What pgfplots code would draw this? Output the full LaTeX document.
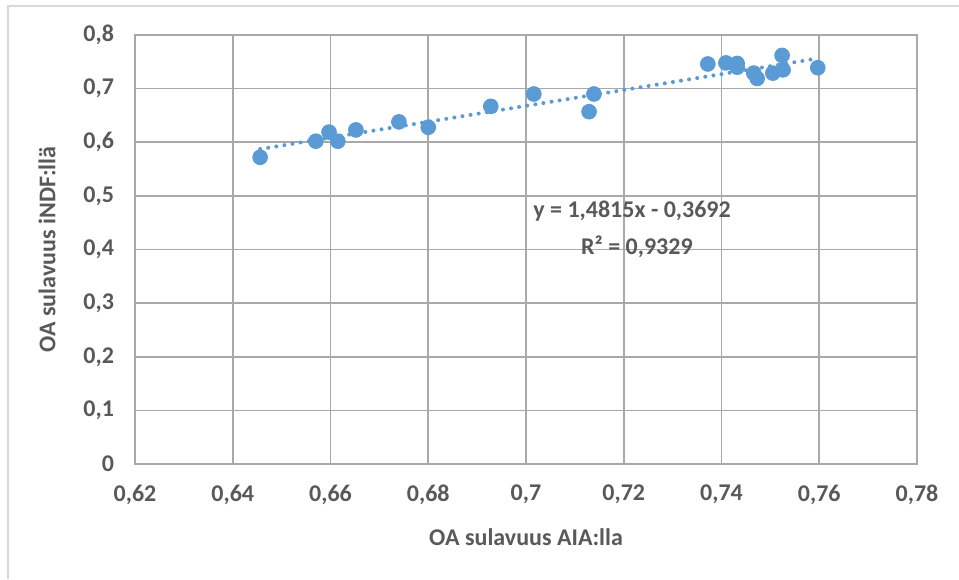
\documentclass[border=0pt]{standalone}
\usepackage{fontspec}
\setmainfont{Carlito}
\usepackage{pgfplots}
\pgfplotsset{compat=1.18}
\definecolor{txt}{HTML}{595959}
\definecolor{grd}{HTML}{A9A9A9}
\definecolor{pt}{HTML}{5B9BD5}
\definecolor{frm}{HTML}{D9D9D9}
\begin{document}
\begin{tikzpicture}
\useasboundingbox (0,0) rectangle (479.5pt,289.5pt);
\draw[frm, line width=0.6pt] (4pt,0pt) -- (4pt,286.5pt) -- (479.5pt,286.5pt);
\begin{axis}[
  at={(67.5pt,57.5pt)}, anchor=south west,
  scale only axis, width=391pt, height=214.5pt,
  xmin=0.62, xmax=0.78, ymin=0, ymax=0.8,
  xtick={0.62,0.64,0.66,0.68,0.70,0.72,0.74,0.76,0.78},
  ytick={0,0.1,0.2,0.3,0.4,0.5,0.6,0.7,0.8},
  grid=major,
  major grid style={grd, line width=0.8pt},
  axis line style={grd, line width=0.8pt},
  major tick length=0pt,
  /pgf/number format/use comma,
  /pgf/number format/assume math mode=true,
  tick label style={font=\bfseries\fontsize{12}{14}\selectfont, text=txt},
  yticklabel style={xshift=-7pt},
  xticklabel style={yshift=-7pt},
  xlabel={OA sulavuus AIA:lla},
  ylabel={OA sulavuus iNDF:llä},
  label style={font=\bfseries\fontsize{12}{14}\selectfont, text=txt},
  xlabel style={at={(axis description cs:0.5,0)}, anchor=center, yshift=-36.5pt},
  ylabel style={at={(axis description cs:0,0.5)}, anchor=center, yshift=44pt},
]
\addplot[only marks, mark=*, mark size=3.7pt, mark options={fill=pt, draw=pt}] coordinates {
(0.6456,0.572) (0.6570,0.602) (0.6597,0.619) (0.6615,0.602) (0.6652,0.623)
(0.6740,0.638) (0.6800,0.628) (0.6928,0.667) (0.7016,0.690) (0.7129,0.657)
(0.7139,0.690) (0.7372,0.746) (0.7409,0.748) (0.7432,0.747) (0.7432,0.740)
(0.7466,0.729) (0.7473,0.719) (0.7505,0.729) (0.7524,0.762) (0.7526,0.735)
(0.7597,0.739)
};
\addplot[pt, line width=2pt, line cap=round, dash pattern=on 0pt off 4.1pt] coordinates {
(0.6456,0.5873) (0.7597,0.7563)
};
\node[font=\bfseries\fontsize{12}{14}\selectfont, text=txt] at (axis cs:0.7217,0.472) {y = 1,4815x - 0,3692};
\node[font=\bfseries\fontsize{12}{14}\selectfont, text=txt] at (axis cs:0.7227,0.405) {R² = 0,9329};
\end{axis}
\end{tikzpicture}
\end{document}
